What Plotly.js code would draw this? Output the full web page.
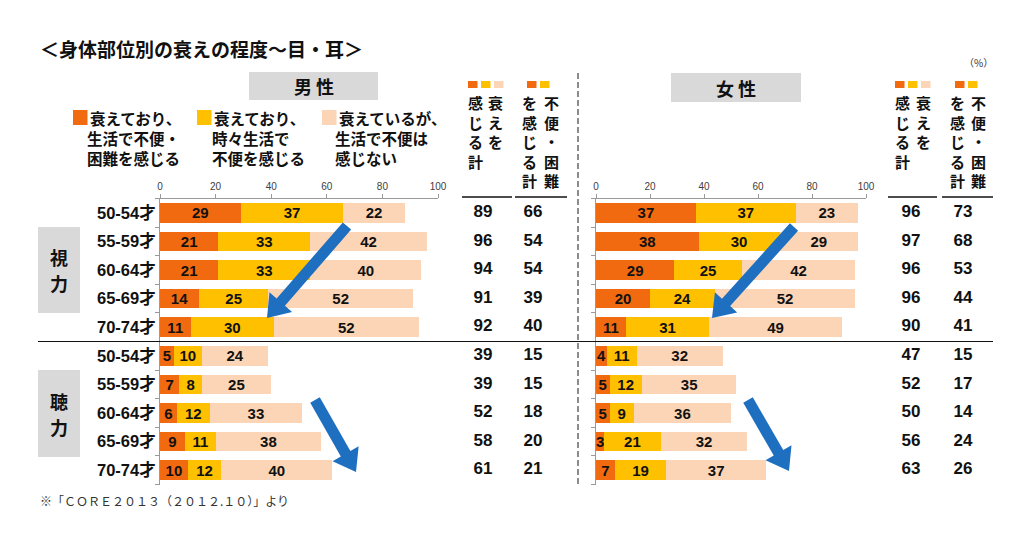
<!DOCTYPE html>
<html><head><meta charset="utf-8">
<script src="https://cdn.plot.ly/plotly-3.0.1.min.js"></script>
<style>html,body{margin:0;padding:0;background:#fff}#chart{width:1024px;height:536px}</style>
</head><body><div id="chart"></div>
<script>
// ---------- data ----------
const groups = ['視力', '聴力'];
const ages = ['50-54才', '55-59才', '60-64才', '65-69才', '70-74才'];
const sexes = ['男 性', '女 性'];
const seriesLegend = [
  ['衰えており、', '生活で不便・<br>困難を感じる'],
  ['衰えており、', '時々生活で<br>不便を感じる'],
  ['衰えているが、', '生活で不便は<br>感じない']
];
const totalHeaders = [
  ['感<br>じ<br>る<br>計', '衰<br>え<br>を'],
  ['を<br>感<br>じ<br>る<br>計', '不<br>便<br>・<br>困<br>難']
];
const totalNames = ['衰えを感じる計', '不便・困難を感じる計'];
const xTicks = [0, 20, 40, 60, 80, 100];
// rows: 視力 50-54 … 70-74, then 聴力 50-54 … 70-74
const maleSevere      = [29, 21, 21, 14, 11, 5, 7, 6, 9, 10];
const maleSometimes   = [37, 33, 33, 25, 30, 10, 8, 12, 11, 12];
const maleNoInconv    = [22, 42, 40, 52, 52, 24, 25, 33, 38, 40];
const maleTotal       = [89, 96, 94, 91, 92, 39, 39, 52, 58, 61];
const maleInconvTotal = [66, 54, 54, 39, 40, 15, 15, 18, 20, 21];
const femaleSevere      = [37, 38, 29, 20, 11, 4, 5, 5, 3, 7];
const femaleSometimes   = [37, 30, 25, 24, 31, 11, 12, 9, 21, 19];
const femaleNoInconv    = [23, 29, 42, 52, 49, 32, 35, 36, 32, 37];
const femaleTotal       = [96, 97, 96, 96, 90, 47, 52, 50, 56, 63];
const femaleInconvTotal = [73, 68, 53, 44, 41, 15, 17, 14, 24, 26];

// ---------- style ----------
const W = 1024, H = 536;
const PX = p => p / W, PY = p => 1 - p / H;
const colors = ['#f26a10', '#ffc000', '#fbd5b5'];
const FONT = '"Liberation Sans", "Noto Sans CJK JP", sans-serif';
const JP = '"Noto Sans CJK JP", sans-serif';
const ARROW = '#1f6fc0';

const rowKeys = groups.flatMap(g => ages.map(a => g + ' ' + a));
const rowText = groups.flatMap(() => ages);

function bars(vals, color, xa, ya) {
  return {
    type: 'bar', orientation: 'h', x: vals, y: rowKeys, xaxis: xa, yaxis: ya,
    marker: { color: color, line: { width: 0 } },
    text: vals.map(String), textposition: 'inside', insidetextanchor: 'middle',
    constraintext: 'none', textangle: 0,
    textfont: { family: FONT, size: 15, color: '#111', weight: 'bold' },
    hoverinfo: 'skip'
  };
}
function totals(vals, colName, xa, ya) {
  return {
    type: 'scatter', mode: 'text', x: vals.map(() => colName), y: rowKeys,
    xaxis: xa, yaxis: ya, text: vals.map(String), cliponaxis: false,
    textfont: { family: FONT, size: 17, color: '#111', weight: 'bold' },
    hoverinfo: 'skip'
  };
}

const data = [
  bars(maleSevere, colors[0], 'x', 'y'),
  bars(maleSometimes, colors[1], 'x', 'y'),
  bars(maleNoInconv, colors[2], 'x', 'y'),
  bars(femaleSevere, colors[0], 'x2', 'y2'),
  bars(femaleSometimes, colors[1], 'x2', 'y2'),
  bars(femaleNoInconv, colors[2], 'x2', 'y2'),
  totals(maleTotal, totalNames[0], 'x3', 'y'),
  totals(maleInconvTotal, totalNames[1], 'x3', 'y'),
  totals(femaleTotal, totalNames[0], 'x4', 'y2'),
  totals(femaleInconvTotal, totalNames[1], 'x4', 'y2')
];

const yDom = [PY(484.5), PY(198.5)];
function valAxis(dom, anchor) {
  return {
    domain: dom, anchor: anchor, side: 'top', range: [0, 100], fixedrange: true,
    tickmode: 'array', tickvals: xTicks, ticktext: xTicks.map(String),
    ticks: 'outside', ticklen: 4, tickcolor: '#9a9a9a', tickwidth: 1,
    showline: true, linecolor: '#9a9a9a', linewidth: 1,
    showgrid: false, zeroline: false,
    tickfont: { family: FONT, size: 10, color: '#404040' }
  };
}
function catAxis(anchor, labels) {
  return {
    domain: yDom, anchor: anchor, type: 'category', categoryarray: rowKeys,
    categoryorder: 'array', range: [rowKeys.length - 0.5, -0.5], fixedrange: true,
    tickmode: 'array', tickvals: rowKeys, ticktext: rowText,
    showticklabels: labels, ticks: 'outside', tickson: 'boundaries',
    ticklen: 4, tickcolor: '#9a9a9a', showline: true, linecolor: '#9a9a9a',
    showgrid: false, zeroline: false,
    tickfont: { family: FONT, size: 16.5, color: '#111', weight: 'bold' }
  };
}
function colAxis(dom, anchor) {
  return {
    domain: dom, anchor: anchor, type: 'category', categoryarray: totalNames,
    categoryorder: 'array', range: [-0.5, 1.5], visible: false, fixedrange: true
  };
}

const shapes = [];
const annotations = [];
function rect(x0, y0, x1, y1, fill) {
  shapes.push({ type: 'rect', xref: 'paper', yref: 'paper', x0: PX(x0), x1: PX(x1),
    y0: PY(y1), y1: PY(y0), fillcolor: fill, line: { width: 0 }, layer: 'below' });
}
function line(x0, y0, x1, y1, color, width, dash) {
  shapes.push({ type: 'line', xref: 'paper', yref: 'paper', x0: PX(x0), x1: PX(x1),
    y0: PY(y0), y1: PY(y1), line: { color: color, width: width, dash: dash || 'solid' } });
}
function text(t, x, y, opts) {
  annotations.push(Object.assign({ text: t, xref: 'paper', yref: 'paper', x: PX(x), y: PY(y),
    showarrow: false, xanchor: 'center', yanchor: 'middle',
    font: { family: JP, size: 15, color: '#111', weight: 'bold' } }, opts || {}));
}
// block arrow drawn as a filled polygon (pixel geometry -> paper coords)
function arrow(tx, ty, px, py) {
  const shaft = 11, headW = 30, headL = 21;
  const dx = px - tx, dy = py - ty, len = Math.hypot(dx, dy);
  const ux = dx / len, uy = dy / len, nx = -uy, ny = ux;
  const bx = px - ux * headL, by = py - uy * headL;
  const pts = [
    [tx + nx * shaft / 2, ty + ny * shaft / 2],
    [bx + nx * shaft / 2, by + ny * shaft / 2],
    [bx + nx * headW / 2, by + ny * headW / 2],
    [px, py],
    [bx - nx * headW / 2, by - ny * headW / 2],
    [bx - nx * shaft / 2, by - ny * shaft / 2],
    [tx - nx * shaft / 2, ty - ny * shaft / 2]
  ];
  const path = 'M' + pts.map(p => PX(p[0]).toFixed(5) + ',' + PY(p[1]).toFixed(5)).join('L') + 'Z';
  shapes.push({ type: 'path', xref: 'paper', yref: 'paper', path: path,
    fillcolor: ARROW, line: { width: 0 }, layer: 'above' });
}

// title and footnote
text('＜身体部位別の衰えの程度～目・耳＞', 38, 48, { xanchor: 'left', font: { family: JP, size: 19, color: '#111', weight: 'bold' } });
text('※「ＣＯＲＥ２０１３（２０１２.１０）」より', 38, 500, { xanchor: 'left', font: { family: JP, size: 12, color: '#333', weight: 'normal' } });
text('（%）', 978, 62, { font: { family: JP, size: 10, color: '#333', weight: 'normal' } });

// sex header boxes
rect(249, 72, 378, 100, '#d9d9d9');
rect(671, 73, 801, 102, '#d9d9d9');
text(sexes[0], 313.5, 86, { font: { family: JP, size: 18, color: '#111', weight: 'bold' } });
text(sexes[1], 736, 87.5, { font: { family: JP, size: 18, color: '#111', weight: 'bold' } });

// legend (top left)
const legX = [[73, 88, 85], [197, 212, 210], [322, 337, 333]];
legX.forEach((p, i) => {
  rect(p[0], 110, p[0] + 14.5, 125, colors[i]);
  text(seriesLegend[i][0], p[1], 117.5, { xanchor: 'left', font: { family: JP, size: 15.5, color: '#111', weight: 'bold' } });
  text(seriesLegend[i][1], p[2], 147.5, { xanchor: 'left', align: 'left', font: { family: JP, size: 15.5, color: '#111', weight: 'bold' } });
});

// total column headers
function headers(sq1, sq2, c1, c2, u1, u2) {
  [0, 1, 2].forEach(i => rect(sq1 + i * 13, 81, sq1 + i * 13 + 9.5, 88, colors[i]));
  [0, 1].forEach(i => rect(sq2 + i * 13, 81, sq2 + i * 13 + 9.5, 88, colors[i]));
  text(totalHeaders[0][0], c1[0], 131.5);
  text(totalHeaders[0][1], c1[1], 122);
  text(totalHeaders[1][0], c2[0], 141);
  text(totalHeaders[1][1], c2[1], 141);
  line(u1[0], 197, u1[1], 197, '#111', 1.5);
  line(u2[0], 197, u2[1], 197, '#111', 1.5);
}
headers(468, 527, [475, 495], [529, 551], [462, 512], [515, 567]);
headers(895, 955, [902, 923], [957, 978], [888, 937], [942, 993]);

// group boxes
rect(38, 227, 80, 313, '#d9d9d9');
rect(38, 370, 80, 457, '#d9d9d9');
const gFont = { family: JP, size: 18, color: '#111', weight: 'bold' };
text(groups[0][0], 59, 257, { font: gFont, borderpad: 0 });
text(groups[0][1], 59, 283, { font: gFont, borderpad: 0 });
text(groups[1][0], 59, 400.5, { font: gFont, borderpad: 0 });
text(groups[1][1], 59, 426.5, { font: gFont, borderpad: 0 });

// separators
line(38, 341.5, 993, 341.5, '#111', 1.2);
line(578, 73, 578, 487, '#8c8c8c', 2, '6px,3px');

// trend arrows (tail -> tip)
arrow(347, 226, 267, 318);
arrow(794, 227, 712, 318);
arrow(315, 400, 356, 472);
arrow(748, 400, 789, 471);

const layout = {
  width: W, height: H, margin: { l: 0, r: 0, t: 0, b: 0 },
  paper_bgcolor: '#fff', plot_bgcolor: 'rgba(0,0,0,0)',
  showlegend: false, barmode: 'stack', bargap: 0.32,
  xaxis: valAxis([PX(160), PX(438)], 'y'),
  xaxis2: valAxis([PX(596), PX(866)], 'y2'),
  xaxis3: colAxis([PX(458), PX(558)], 'y'),
  xaxis4: colAxis([PX(885), PX(989)], 'y2'),
  yaxis: catAxis('x', true),
  yaxis2: catAxis('x2', false),
  shapes: shapes, annotations: annotations,
  font: { family: FONT }
};

Plotly.newPlot('chart', data, layout, { staticPlot: true, displayModeBar: false });
</script></body></html>
